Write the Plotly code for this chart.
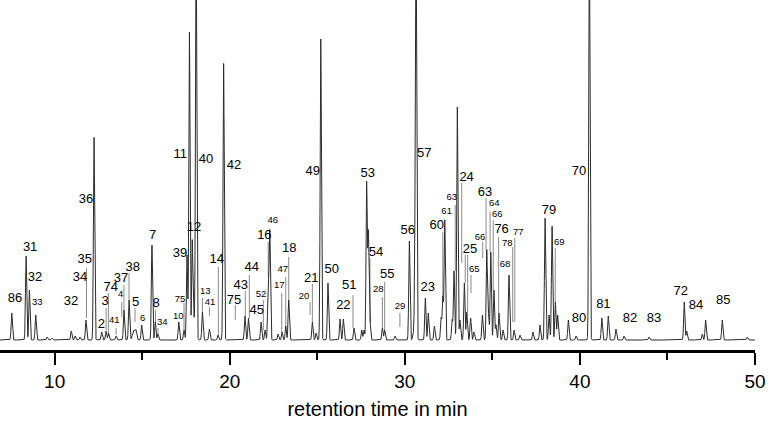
import numpy as np
import plotly.graph_objects as go

# ---- peak data: retention time (min), height (detector units)
peak_rt = [7.55, 8.37, 8.56, 8.92, 9.57, 9.85, 10.95, 11.17, 11.45, 11.79, 12.25, 12.69, 12.94, 13.08,
           13.51, 13.96, 14.25, 14.53, 14.65, 14.97, 15.56, 15.75, 15.90, 17.09, 17.39, 17.56, 17.70,
           17.86, 17.96, 18.08, 18.44, 18.84, 19.33, 19.65, 20.87, 21.07, 21.79, 22.02, 22.20, 22.29,
           22.76, 22.99, 23.20, 23.37, 24.72, 24.93, 25.20, 25.61, 26.30, 26.49, 27.10, 27.54, 27.67,
           27.82, 27.92, 28.01, 28.72, 28.85, 29.44, 30.26, 30.47, 30.57, 30.64, 31.17, 31.34, 31.69,
           32.07, 32.17, 32.28, 32.70, 32.81, 33.00, 33.15, 33.40, 33.54, 33.76, 33.95, 34.43, 34.68,
           34.78, 34.91, 35.09, 35.21, 35.38, 35.61, 35.95, 36.24, 36.58, 37.32, 37.72, 38.01, 38.24,
           38.41, 38.60, 38.73, 39.34, 39.78, 40.54, 41.25, 41.62, 42.06, 42.52, 43.95, 45.96, 46.10,
           46.99, 47.18, 48.13, 49.56]
peak_h = [27, 84, 50, 25, 3, 2, 9, 4, 3, 20, 203, 8, 9, 7,
          4, 30, 40, 10, 7, 15, 95, 18, 6, 18, 10, 85, 308,
          100, 20, 420, 28, 11, 5, 277, 24, 22, 18, 10, 63, 108,
          6, 8, 14, 40, 18, 7, 301, 57, 21, 21, 12, 10, 10,
          157, 107, 18, 12, 10, 4, 99, 5, 50, 420, 42, 27, 14,
          22, 43, 120, 20, 69, 233, 20, 57, 28, 22, 8, 25, 90,
          25, 88, 50, 15, 27, 10, 65, 10, 5, 8, 15, 122, 25,
          114, 38, 25, 20, 4, 420, 22, 24, 11, 4, 3, 38, 9,
          6, 20, 20, 3]
broad_rt = [14.53]

# ---- peak labels
lab_big = ["86", "31", "32", "32", "34", "35", "36", "2", "3", "74", "37", "38", "5", "7", "8",
           "39", "11", "12", "40", "14", "42", "75", "43", "44", "45", "16", "18", "21", "49",
           "50", "22", "51", "53", "54", "55", "56", "57", "23", "60", "24", "25", "63", "76",
           "79", "80", "70", "81", "82", "83", "72", "84", "85"]
lab_big_rt = [7.74, 8.60, 8.88, 10.94, 11.45, 11.72, 11.79, 12.67, 12.88, 13.20, 13.79, 14.46, 14.63,
              15.60, 15.79, 17.16, 17.18, 17.96, 18.65, 19.26, 20.25, 20.25, 20.63, 21.26, 21.54,
              21.98, 23.40, 24.66, 24.74, 25.83, 26.49, 26.83, 27.88, 28.35, 29.00, 30.17, 31.11,
              31.31, 31.82, 33.53, 33.72, 34.58, 35.53, 38.24, 39.95, 39.95, 41.34, 42.86, 44.23,
              45.76, 46.63, 48.19]
lab_big_y = [41.7, 92.7, 62.3, 38.3, 62.3, 80, 140.7, 15, 38.3, 52.7, 61, 72.7, 37.3,
             104, 36.7, 86.7, 185, 112.7, 180.7, 80, 174.3, 39, 54, 72.3, 29.3,
             104.3, 91.7, 61.7, 168.3, 70, 34, 54.3, 166.7, 87.7, 65, 109, 186,
             52.7, 114.3, 162.7, 90, 147.3, 110, 129.3, 21.7, 168.3, 35, 21, 21,
             48.3, 34, 39.3]

lab_small = ["33", "41", "4", "6", "34", "10", "75", "13", "41", "52", "46", "17", "47", "20",
             "28", "29", "61", "63", "65", "66", "64", "66", "78", "77", "68", "69"]
lab_small_rt = [9.01, 13.41, 13.77, 15.03, 16.15, 17.06, 17.16, 18.61, 18.88, 21.79, 22.46, 22.83,
                23.03, 24.24, 28.49, 29.73, 32.39, 32.68, 33.97, 34.30, 35.11, 35.28, 35.85, 36.48,
                35.72, 38.82]
lab_small_y = [37.7, 19.3, 45, 21.7, 17.7, 23.3, 40.7, 48.3, 37.3, 45, 119.3, 54,
               70.7, 43.3, 50.7, 33.3, 128.3, 142.7, 70.7, 102.7, 136.7, 125, 96, 107.3,
               75, 97.7]

# ---- leader lines: retention time, upper end, lower end
lead_rt = [11.82, 12.94, 13.07, 13.51, 13.83, 13.96, 14.25, 14.59, 15.76, 15.90, 17.39, 18.44, 18.84,
           19.35, 20.32, 20.89, 21.12, 21.92, 22.20, 22.97, 23.20, 23.37, 24.59, 24.72, 27.04, 28.01,
           28.72, 28.85, 29.72, 32.17, 32.88, 33.25, 33.45, 33.59, 33.78, 34.45, 34.64, 34.87, 35.05,
           35.36, 36.16, 36.28, 38.59]
lead_top = [72, 32, 47, 12, 38, 55, 67, 32, 30, 12, 37, 42, 33,
            73, 35, 49, 65, 40, 98, 47, 63, 83, 38, 56, 45, 82,
            43, 58, 27, 108, 135, 157, 85, 85, 65, 98, 142, 128, 120,
            103, 93, 102, 92]
lead_bot = [22, 10, 4, 5, 23, 30, 40, 18, 18, 6, 10, 28, 24,
            5, 20, 24, 22, 10, 63, 8, 14, 40, 25, 18, 12, 18,
            12, 10, 13, 43, 69, 77, 57, 28, 47, 82, 90, 88, 50,
            27, 18, 18, 38]

# ---- build chromatogram trace from the peak table
t = np.arange(6.88, 50.0, 0.004)
signal = np.zeros_like(t)
for rt, h in zip(peak_rt, peak_h):
    sig = 0.08 if rt in broad_rt else 0.035
    signal += h * np.exp(-0.5 * ((t - rt) / sig) ** 2)

lx, ly = [], []
for rt, a, b in zip(lead_rt, lead_top, lead_bot):
    lx += [rt, rt, None]
    ly += [a, b, None]

fig = go.Figure()
fig.add_trace(go.Scatter(x=lx, y=ly, mode="lines", line=dict(color="#8a8a8a", width=1),
                         hoverinfo="skip", showlegend=False))
fig.add_trace(go.Scatter(x=t, y=signal, mode="lines", line=dict(color="#2b2b2b", width=1),
                         showlegend=False))
fig.add_trace(go.Scatter(x=lab_big_rt, y=lab_big_y, text=lab_big, mode="text",
                         textposition="middle center", cliponaxis=False,
                         textfont=dict(family="Liberation Sans, Arial", size=13, color="black"),
                         showlegend=False))
fig.add_trace(go.Scatter(x=lab_small_rt, y=lab_small_y, text=lab_small, mode="text",
                         textposition="middle center", cliponaxis=False,
                         textfont=dict(family="Liberation Sans, Arial", size=9.5, color="black"),
                         showlegend=False))

fig.update_layout(
    width=768, height=426,
    margin=dict(l=0, r=13, t=0, b=76),
    paper_bgcolor="white", plot_bgcolor="white",
    font=dict(family="Liberation Sans, Arial", color="black"),
    xaxis=dict(range=[6.88, 50.0], showgrid=False, zeroline=False,
               showline=True, linecolor="black", linewidth=2.5,
               ticks="outside", ticklen=12, tickwidth=2, tickcolor="black",
               tick0=0, dtick=10, tickfont=dict(size=19),
               minor=dict(ticks="outside", ticklen=7, tickwidth=2, tickcolor="black", dtick=5, tick0=0),
               title=dict(text="retention time in min", font=dict(size=20), standoff=12)),
    yaxis=dict(range=[-10, 340], visible=False),
)

fig.write_html("out.html", config={"displayModeBar": False},
               post_script="document.body.style.margin='0';document.body.style.overflow='hidden';")
